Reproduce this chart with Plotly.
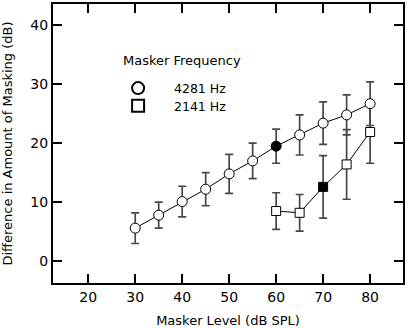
import plotly.graph_objects as go

# Data
level_4281 = [30, 35, 40, 45, 50, 55, 60, 65, 70, 75, 80]
diff_4281 = [5.6, 7.8, 10.1, 12.2, 14.8, 17.0, 19.5, 21.4, 23.4, 24.8, 26.7]
err_4281 = [2.6, 2.2, 2.6, 2.8, 3.3, 3.0, 2.9, 3.4, 3.6, 3.4, 3.7]
fill_4281 = ["white"] * 6 + ["black"] + ["white"] * 4

level_2141 = [60, 65, 70, 75, 80]
diff_2141 = [8.5, 8.2, 12.6, 16.4, 21.9]
err_2141 = [3.1, 3.1, 5.3, 5.9, 5.3]
fill_2141 = ["white", "white", "black", "white", "white"]

x_ticks = [20, 30, 40, 50, 60, 70, 80]
y_ticks = [0, 10, 20, 30, 40]

FONT = "DejaVu Sans"
ERR_COLOR = "#484848"

fig = go.Figure()

# connecting lines (no legend entries)
fig.add_trace(go.Scatter(x=level_2141, y=diff_2141, mode="lines",
                         line=dict(color="black", width=1), showlegend=False,
                         hoverinfo="skip"))
fig.add_trace(go.Scatter(x=level_4281, y=diff_4281, mode="lines",
                         line=dict(color="black", width=1), showlegend=False,
                         hoverinfo="skip"))

fig.add_trace(go.Scatter(
    x=level_2141, y=diff_2141, name="\u00a0\u00a0\u00a0\u00a02141 Hz",
    mode="markers", legend="legend2",
    marker=dict(symbol="square", size=9, color=fill_2141,
                line=dict(color="black", width=1)),
    error_y=dict(type="data", array=err_2141, visible=True,
                 color=ERR_COLOR, thickness=1.7, width=4),
))

fig.add_trace(go.Scatter(
    x=level_4281, y=diff_4281, name="\u00a0\u00a0\u00a0\u00a04281 Hz",
    mode="markers", legend="legend",
    marker=dict(symbol="circle", size=10, color=fill_4281,
                line=dict(color="black", width=1)),
    error_y=dict(type="data", array=err_4281, visible=True,
                 color=ERR_COLOR, thickness=1.7, width=4),
))

fig.add_annotation(
    x=27.0, y=34.1, xref="x", yref="y", text="Masker Frequency",
    showarrow=False, xanchor="left", yanchor="middle",
    font=dict(family=FONT, size=13, color="black"),
)

axis_common = dict(
    showline=True, linecolor="black", linewidth=2, mirror="ticks",
    ticks="inside", ticklen=9, tickwidth=1.5, tickcolor="black",
    showgrid=False, zeroline=False, automargin=False,
    tickfont=dict(family=FONT, size=14, color="black"),
)

fig.update_xaxes(
    range=[12.5, 87], tickvals=x_ticks,
    title=dict(text="Masker Level (dB SPL)", font=dict(family=FONT, size=13, color="black")),
    **axis_common,
)
fig.update_yaxes(
    range=[-3.7, 43.6], tickvals=y_ticks,
    title=dict(text="Difference in Amount of Masking (dB)", font=dict(family=FONT, size=13, color="black")),
    **axis_common,
)

legend_common = dict(
    xanchor="left", yanchor="top", bgcolor="rgba(0,0,0,0)",
    font=dict(family=FONT, size=12.5, color="black"),
    itemsizing="constant",
)

fig.update_layout(
    width=408, height=328,
    margin=dict(l=53, r=5, t=4, b=45),
    plot_bgcolor="white", paper_bgcolor="white",
    showlegend=True,
    legend=dict(x=0.186, y=0.751, **legend_common),
    legend2=dict(x=0.186, y=0.688, **legend_common),
)

fig.write_html("out.html", config={"displayModeBar": False},
               post_script="document.body.style.margin='0';")
